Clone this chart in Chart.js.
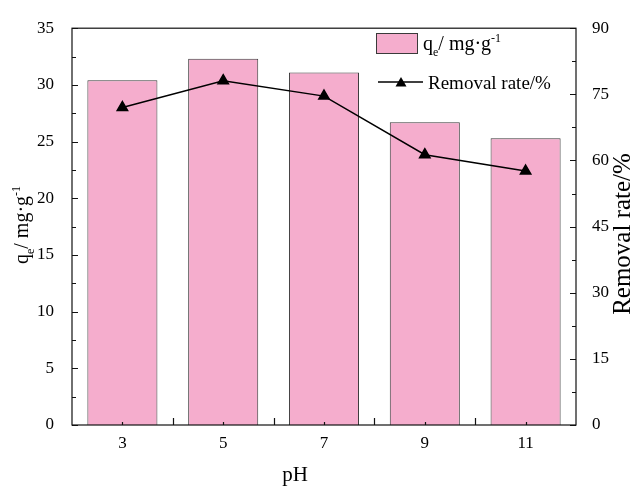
<!DOCTYPE html>
<html><head><meta charset="utf-8">
<script src="https://cdn.jsdelivr.net/npm/chart.js@4.4.1/dist/chart.umd.min.js"></script>
<style>html,body{margin:0;padding:0;background:#fff}#wrap{width:632px;height:486px;position:relative}</style>
</head><body><div id="wrap"><canvas id="c" width="632" height="486"></canvas></div>
<script>
// ---- data ----
const categories = ['3', '5', '7', '9', '11'];
const qeValues = [30.4, 32.3, 31.1, 26.7, 25.3];
const removalRates = [72.0, 78.1, 74.6, 61.3, 57.6];
const leftTickValues = [0, 5, 10, 15, 20, 25, 30, 35];
const rightTickValues = [0, 15, 30, 45, 60, 75, 90];
const xTitle = 'pH';
const yTitleParts = [['q', 'n'], ['e', 'sub'], ['/ mg·g', 'n'], ['-1', 'sup']];
const y1Title = 'Removal rate/%';
const legendBarParts = yTitleParts;
const legendLineLabel = 'Removal rate/%';

const FONT = "'Liberation Serif', 'Times New Roman', serif";
const PINK = '#F5ADCD';
const EDGE = '#3a3a3a';

function drawParts(ctx, parts, x, y, size, align) {
  let w = 0;
  const items = parts.map(([t, k]) => {
    const s = k === 'n' ? size : Math.round(size * 0.62);
    ctx.font = s + 'px ' + FONT;
    const m = ctx.measureText(t).width;
    w += m;
    return {t, k, s, m};
  });
  let cx = align === 'center' ? x - w / 2 : x;
  ctx.textAlign = 'left';
  ctx.textBaseline = 'alphabetic';
  items.forEach(it => {
    ctx.font = it.s + 'px ' + FONT;
    let dy = 0;
    if (it.k === 'sub') dy = size * 0.28;
    if (it.k === 'sup') dy = -size * 0.42;
    ctx.fillText(it.t, cx, y + dy);
    cx += it.m;
  });
}

const framePlugin = {
  id: 'frame',
  afterDatasetsDraw(chart) {
    const {ctx, chartArea: a, scales} = chart;
    ctx.save();
    ctx.strokeStyle = '#111';
    ctx.lineWidth = 1.2;
    ctx.strokeRect(a.left, a.top, a.right - a.left, a.bottom - a.top);
    ctx.beginPath();
    const y = scales.y;
    for (let v = 0; v <= 35; v += 2.5) {
      const p = Math.round(y.getPixelForValue(v)) + 0.5;
      const len = (v % 5 === 0) ? 6 : 4;
      ctx.moveTo(a.left, p); ctx.lineTo(a.left + len, p);
    }
    const y1 = scales.y1;
    for (let v = 0; v <= 90; v += 7.5) {
      const p = Math.round(y1.getPixelForValue(v)) + 0.5;
      const len = (v % 15 === 0) ? 6 : 4;
      ctx.moveTo(a.right, p); ctx.lineTo(a.right - len, p);
    }
    const x = scales.x;
    for (let i = 0; i < categories.length; i++) {
      const p = Math.round(x.getPixelForValue(i)) + 0.5;
      ctx.moveTo(p, a.bottom); ctx.lineTo(p, a.bottom - 3);
      if (i < categories.length - 1) {
        const q = Math.round(x.getPixelForValue(i + 0.5)) + 0.5;
        ctx.moveTo(q, a.bottom); ctx.lineTo(q, a.bottom - 7);
      }
    }
    ctx.stroke();

    ctx.fillStyle = '#000';
    ctx.save();
    ctx.translate(24, 225);
    ctx.rotate(-Math.PI / 2);
    drawParts(ctx, yTitleParts, 0, 4, 20, 'center');
    ctx.restore();

    ctx.save();
    ctx.translate(623, 234);
    ctx.rotate(-Math.PI / 2);
    ctx.font = '25px ' + FONT;
    ctx.textAlign = 'center';
    ctx.textBaseline = 'middle';
    ctx.fillText(y1Title, 0, 0);
    ctx.restore();

    ctx.font = '21px ' + FONT;
    ctx.textAlign = 'center';
    ctx.textBaseline = 'alphabetic';
    ctx.fillText(xTitle, 295, 481);

    // legend
    ctx.fillStyle = PINK;
    ctx.fillRect(376.5, 33.5, 41, 20);
    ctx.strokeStyle = EDGE;
    ctx.lineWidth = 1;
    ctx.strokeRect(376.5, 33.5, 41, 20);
    ctx.fillStyle = '#000';
    drawParts(ctx, legendBarParts, 423, 50, 20, 'left');

    ctx.strokeStyle = '#000';
    ctx.lineWidth = 1.5;
    ctx.beginPath();
    ctx.moveTo(378, 82); ctx.lineTo(423, 82);
    ctx.stroke();
    ctx.beginPath();
    ctx.moveTo(401, 77); ctx.lineTo(406.5, 86.5); ctx.lineTo(395.5, 86.5); ctx.closePath();
    ctx.fill();
    ctx.font = '19px ' + FONT;
    ctx.textAlign = 'left';
    ctx.textBaseline = 'alphabetic';
    ctx.fillText(legendLineLabel, 428, 89);
    ctx.restore();
  }
};

new Chart(document.getElementById('c'), {
  data: {
    labels: categories,
    datasets: [
      {
        type: 'line', label: 'Removal rate/%', data: removalRates, yAxisID: 'y1',
        borderColor: '#000', backgroundColor: '#000', borderWidth: 1.5,
        pointStyle: 'triangle', pointRadius: 6, pointHoverRadius: 6, tension: 0, order: 0
      },
      {
        type: 'bar', label: 'qe', data: qeValues, yAxisID: 'y',
        backgroundColor: PINK, borderColor: EDGE, borderWidth: 1,
        categoryPercentage: 1, barPercentage: 0.695, order: 1
      }
    ]
  },
  options: {
    responsive: false, devicePixelRatio: 1, animation: false,
    layout: {padding: {top: 20, left: 0, right: 0, bottom: 0}},
    plugins: {legend: {display: false}, tooltip: {enabled: false}},
    scales: {
      x: {
        type: 'category', offset: true,
        grid: {display: false, drawTicks: false}, border: {display: false},
        ticks: {color: '#000', font: {family: FONT, size: 17}, padding: 8, maxRotation: 0},
        afterFit(s) { s.height = 61; }
      },
      y: {
        position: 'left', min: 0, max: 35,
        afterBuildTicks(s) { s.ticks = leftTickValues.map(v => ({value: v})); },
        grid: {display: false, drawTicks: false}, border: {display: false},
        ticks: {color: '#000', font: {family: FONT, size: 17}, padding: 18},
        afterFit(s) { s.width = 72; }
      },
      y1: {
        position: 'right', min: 0, max: 90,
        afterBuildTicks(s) { s.ticks = rightTickValues.map(v => ({value: v})); },
        grid: {display: false, drawTicks: false}, border: {display: false},
        ticks: {color: '#000', font: {family: FONT, size: 17}, padding: 16},
        afterFit(s) { s.width = 56; }
      }
    }
  },
  plugins: [framePlugin]
});
</script>
</body></html>
